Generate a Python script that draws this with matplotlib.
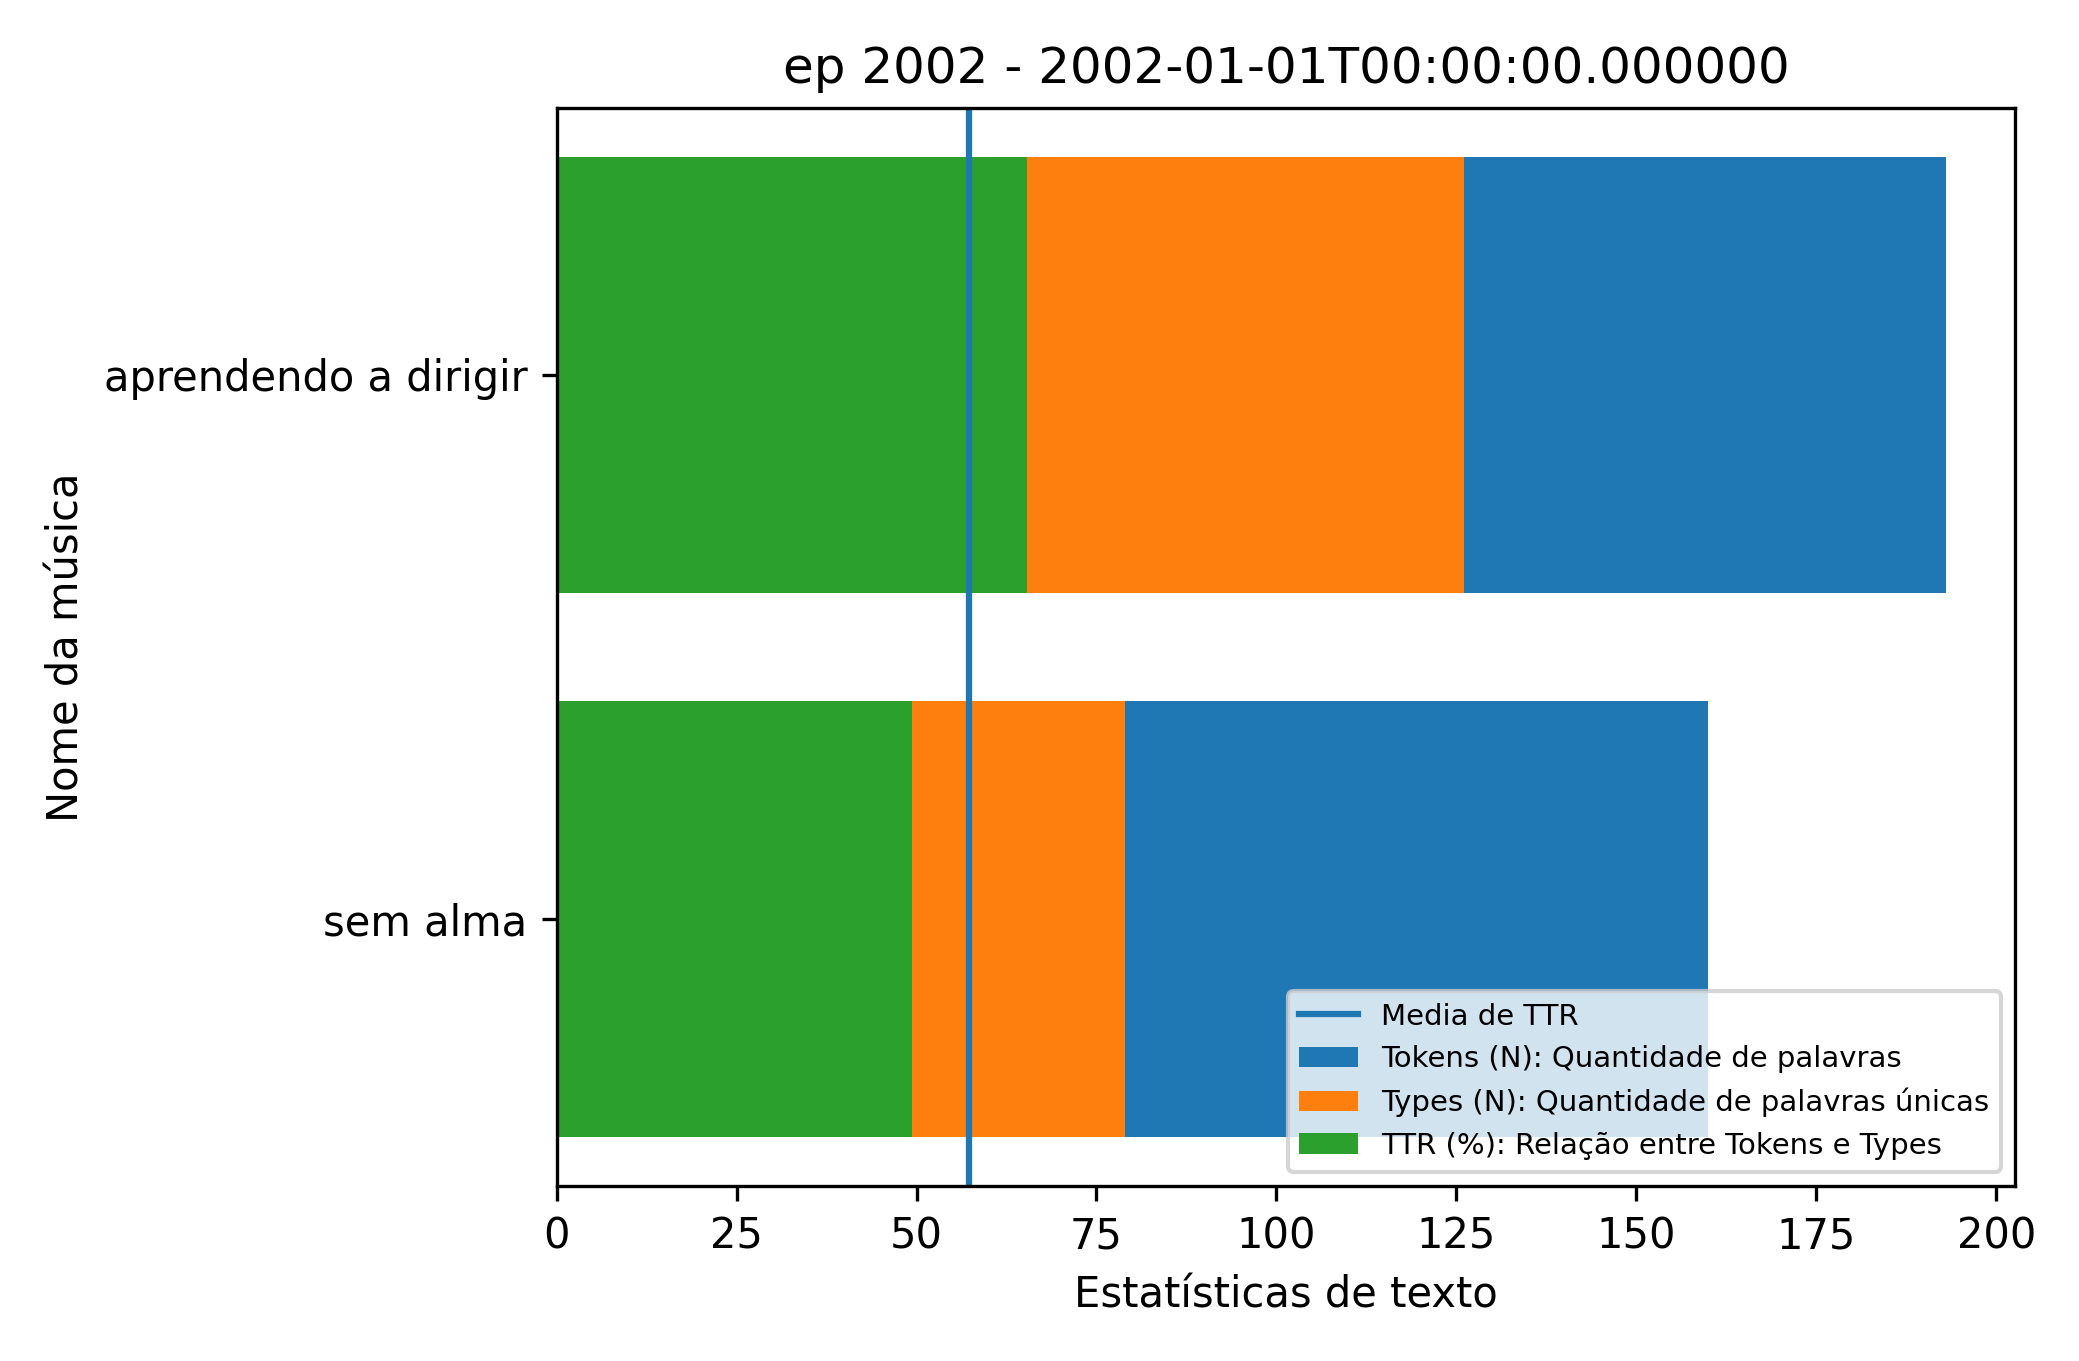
import matplotlib
matplotlib.use("Agg")
import matplotlib.pyplot as plt

musicas = ["sem alma", "aprendendo a dirigir"]
tokens = [160, 193]
types = [79, 126]
ttr = [49.4, 65.3]
media_ttr = sum(ttr) / len(ttr)

fig, ax = plt.subplots(figsize=(6.93, 4.537), dpi=300)
ax.barh(musicas, tokens, label="Tokens (N): Quantidade de palavras")
ax.barh(musicas, types, label="Types (N): Quantidade de palavras únicas")
ax.barh(musicas, ttr, label="TTR (%): Relação entre Tokens e Types")
ax.axvline(media_ttr, label="Media de TTR")
ax.set_title("ep 2002 - 2002-01-01T00:00:00.000000")
ax.set_xlabel("Estatísticas de texto")
ax.set_ylabel("Nome da música")
ax.legend(loc="lower right", fontsize=7)
fig.tight_layout()
fig.savefig("out.png")
